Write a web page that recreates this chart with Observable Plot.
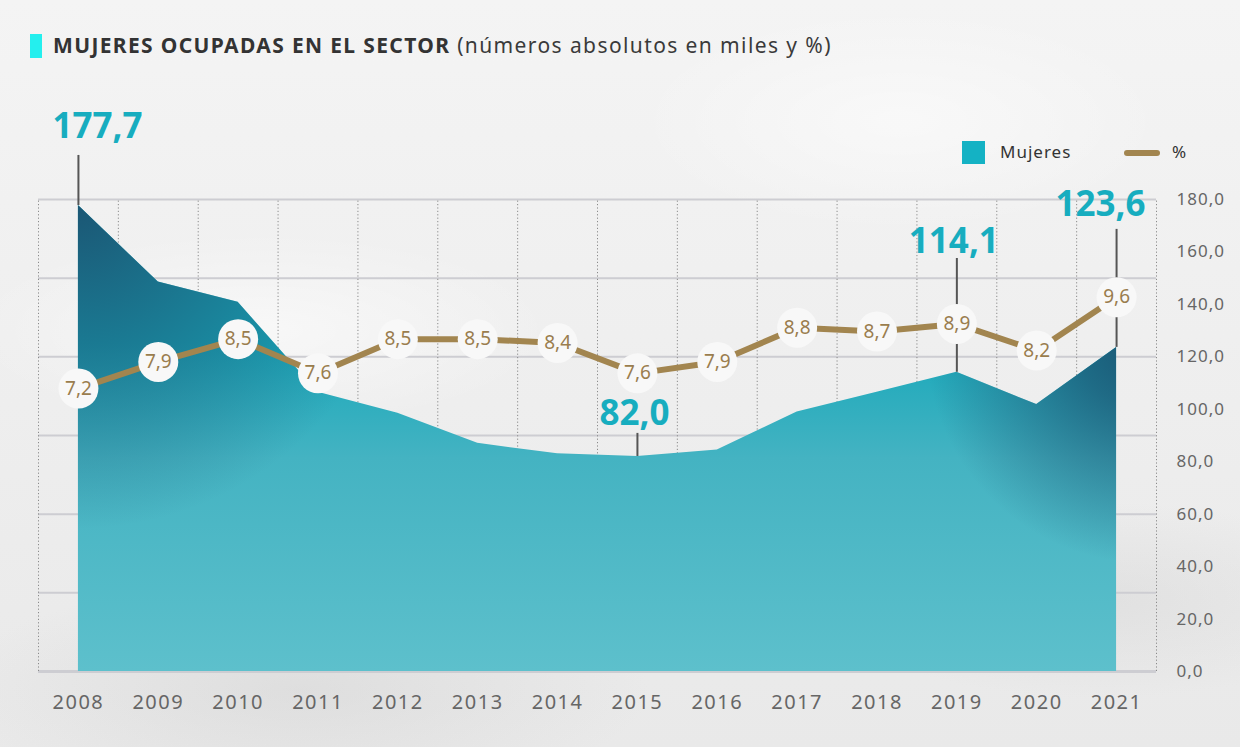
<!DOCTYPE html>
<html>
<head>
<meta charset="utf-8">
<script src="https://cdn.jsdelivr.net/npm/d3@7"></script>
<script src="https://cdn.jsdelivr.net/npm/@observablehq/plot@0.6"></script>
<style>
  html, body { margin: 0; padding: 0; }
  body {
    width: 1240px; height: 747px; overflow: hidden; position: relative;
    font-family: 'Noto Sans', sans-serif;
    background:
      radial-gradient(ellipse 420px 140px at 260px 330px, rgba(255,255,255,0.55), rgba(255,255,255,0) 70%),
      radial-gradient(ellipse 380px 160px at 900px 120px, rgba(255,255,255,0.5), rgba(255,255,255,0) 70%),
      radial-gradient(ellipse 500px 160px at 300px 690px, rgba(200,200,200,0.35), rgba(200,200,200,0) 70%),
      radial-gradient(ellipse 400px 140px at 1100px 600px, rgba(205,205,205,0.35), rgba(205,205,205,0) 70%),
      linear-gradient(180deg, #f4f4f4 0%, #efefef 45%, #e9e9e9 100%);
  }
  #titlebar { position: absolute; left: 30px; top: 34px; width: 12px; height: 24px; background: #24efee; }
  #title { position: absolute; left: 53px; top: 30px; font-size: 21px; line-height: 30px; color: #333; white-space: nowrap; }
  #title b { font-weight: 700; letter-spacing: 1.35px; }
  #title span { letter-spacing: 1.4px; color: #3a3a3a; }
  #chart { position: absolute; left: 0; top: 80px; }
  #legend { position: absolute; left: 962px; top: 141px; height: 23px; font-size: 17px; color: #333; letter-spacing: 1px; }
  #legend .sw { position: absolute; left: 0; top: 0; width: 23px; height: 23px; background: #14b2c4; }
  #legend .l1 { position: absolute; left: 38px; top: -1px; line-height: 24px; }
  #legend .ln { position: absolute; left: 162px; top: 9px; width: 36px; height: 6px; border-radius: 3px; background: #a2854f; }
  #legend .l2 { position: absolute; left: 210px; top: -1px; line-height: 24px; }
  g[aria-label="y-axis tick label"] text { letter-spacing: 1px; }
  g[aria-label="x-axis tick label"] text { letter-spacing: 1.5px; }
  g[aria-label="pct-labels"] text { letter-spacing: 1px; }
</style>
</head>
<body>
<div id="titlebar"></div>
<div id="title"><b>MUJERES OCUPADAS EN EL SECTOR</b><span> (números absolutos en miles y %)</span></div>
<div id="legend"><div class="sw"></div><div class="l1">Mujeres</div><div class="ln"></div><div class="l2">%</div></div>
<div id="chart"></div>
<script>
// ---- data ----
const years   = [2008, 2009, 2010, 2011, 2012, 2013, 2014, 2015, 2016, 2017, 2018, 2019, 2020, 2021];
const mujeres = [177.7, 148.5, 140.8, 106.5, 98.5, 87.0, 83.0, 82.0, 84.5, 99.0, 106.5, 114.1, 101.8, 123.6];
const pct     = [7.2, 7.9, 8.5, 7.6, 8.5, 8.5, 8.4, 7.6, 7.9, 8.8, 8.7, 8.9, 8.2, 9.6];
const yTicks  = [0, 20, 40, 60, 80, 100, 120, 140, 160, 180];
const gridY   = [0, 30, 60, 90, 120, 150, 180];
const highlightYears = [2008, 2015, 2019, 2021];

// ---- layout (not data) ----
const annotLayout = {
  2008: {ext: 19.1, dy: -29, dx: 19},
  2015: {ext: 8.8,  dy: -20, dx: -3},
  2019: {ext: 43.4, dy: -17, dx: -3},
  2021: {ext: 45.0, dy: -25, dx: -16}
};
// percent series drawn on a secondary scale mapped into the area's units
const pctToY = d3.scaleLinear().domain([7.2, 9.6]).range([107.9, 142.7]);

const fmt1 = v => v.toFixed(1).replace(".", ",");
const data = years.map((year, i) => ({year, mujeres: mujeres[i], pct: pct[i]}));
const hl = data.filter(d => highlightYears.includes(d.year));
const bandEdges = years.map(y => y - 0.5).concat([years[years.length - 1] + 0.5]);

const font = "'Noto Sans', sans-serif";
const tan = "#a2854f";

const bigLabels = hl.map(d => Plot.text([d], {
  x: "year", y: d => d.mujeres + annotLayout[d.year].ext, text: d => fmt1(d.mujeres),
  dx: annotLayout[d.year].dx, dy: annotLayout[d.year].dy,
  fill: "#17adbf", fontSize: 35, fontWeight: 700, fontFamily: font
}));

const chart = Plot.plot({
  width: 1240, height: 667,
  marginLeft: 38, marginRight: 84, marginTop: 119, marginBottom: 76,
  style: {fontFamily: font, background: "transparent", overflow: "visible"},
  x: {domain: [2007.5, 2021.5], axis: null},
  y: {domain: [0, 180], axis: null},
  marks: [
    Plot.ruleY(gridY, {stroke: "#cdcdd2", strokeWidth: d => d === 0 ? 3 : 2}),
    Plot.ruleX(bandEdges, {y1: 0, y2: 180, stroke: "#8a8a8a", strokeWidth: 1, strokeDasharray: "1.2,2.2"}),
    Plot.areaY(data, {x: "year", y: "mujeres", fill: "url(#areaBase)"}),
    Plot.areaY(data, {x: "year", y: "mujeres", fill: "url(#darkLeft)"}),
    Plot.areaY(data, {x: "year", y: "mujeres", fill: "url(#darkRight)"}),
    Plot.ruleX(hl, {x: "year", y1: "mujeres", y2: d => d.mujeres + annotLayout[d.year].ext, stroke: "#555", strokeWidth: 2}),
    Plot.line(data, {x: "year", y: d => pctToY(d.pct), stroke: tan, strokeWidth: 6}),
    Plot.dot(data, {x: "year", y: d => pctToY(d.pct), r: 20, fill: "#f8f8f8", stroke: "none"}),
    Plot.text(data, {x: "year", y: d => pctToY(d.pct), text: d => fmt1(d.pct), fill: "#9a7d4e", fontSize: 19, fontFamily: font, ariaLabel: "pct-labels"}),
    ...bigLabels,
    Plot.axisX({ticks: years, tickFormat: d => String(d), tickSize: 0, tickPadding: 23, fontSize: 20, fill: "#666", fontFamily: font, label: null}),
    Plot.axisY({anchor: "right", ticks: yTicks, tickFormat: fmt1, tickSize: 0, tickPadding: 20, fontSize: 17, fill: "#666", fontFamily: font, label: null})
  ]
});

document.getElementById("chart").appendChild(chart);

const svg = d3.select(chart);
const xs = chart.scale("x"), ys = chart.scale("y");
const defs = svg.insert("defs", ":first-child");

const base = defs.append("linearGradient").attr("id", "areaBase").attr("gradientUnits", "userSpaceOnUse")
  .attr("x1", 0).attr("x2", 0).attr("y1", ys.apply(125)).attr("y2", ys.apply(0));
base.append("stop").attr("offset", 0).attr("stop-color", "#19a8ba");
base.append("stop").attr("offset", 0.35).attr("stop-color", "#44b3c2");
base.append("stop").attr("offset", 1).attr("stop-color", "#5dc0cc");

const dl = defs.append("radialGradient").attr("id", "darkLeft").attr("gradientUnits", "userSpaceOnUse")
  .attr("cx", xs.apply(2008)).attr("cy", ys.apply(180)).attr("r", 330);
dl.append("stop").attr("offset", 0).attr("stop-color", "#1b5573").attr("stop-opacity", 1);
dl.append("stop").attr("offset", 0.45).attr("stop-color", "#1b5573").attr("stop-opacity", 0.55);
dl.append("stop").attr("offset", 1).attr("stop-color", "#1b5573").attr("stop-opacity", 0);

const dr = defs.append("radialGradient").attr("id", "darkRight").attr("gradientUnits", "userSpaceOnUse")
  .attr("cx", xs.apply(2021) + 30).attr("cy", ys.apply(125)).attr("r", 220);
dr.append("stop").attr("offset", 0).attr("stop-color", "#1b5573").attr("stop-opacity", 1);
dr.append("stop").attr("offset", 0.3).attr("stop-color", "#1b5573").attr("stop-opacity", 0.75);
dr.append("stop").attr("offset", 1).attr("stop-color", "#1b5573").attr("stop-opacity", 0);
</script>
</body>
</html>
